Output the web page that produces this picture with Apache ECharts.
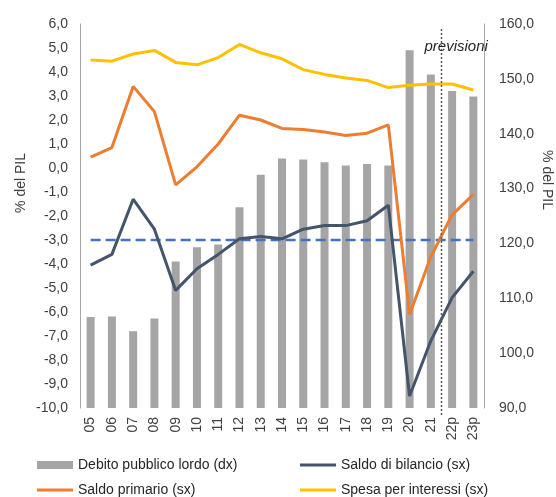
<!DOCTYPE html>
<html>
<head>
<meta charset="utf-8">
<script src="https://cdn.jsdelivr.net/npm/echarts@6/dist/echarts.min.js"></script>
<style>
  html, body { margin: 0; padding: 0; background: #fff; }
  #chart { width: 556px; height: 497px; }
</style>
</head>
<body>
<div id="chart"></div>
<script>
// anni (p = previsioni)
const anni = ['05', '06', '07', '08', '09', '10', '11', '12', '13', '14', '15', '16', '17', '18', '19', '20', '21', '22p', '23p'];

// % del PIL, asse destro
const debitoLordo = [106.6, 106.7, 104.0, 106.3, 116.7, 119.3, 119.8, 126.6, 132.5, 135.5, 135.3, 134.8, 134.2, 134.5, 134.2, 155.2, 150.8, 147.8, 146.8];

// % del PIL, asse sinistro
const saldoBilancio = [-4.05, -3.6, -1.3, -2.55, -5.1, -4.2, -3.6, -2.95, -2.85, -2.95, -2.55, -2.4, -2.4, -2.2, -1.55, -9.5, -7.2, -5.4, -4.3];
const saldoPrimario = [0.45, 0.85, 3.4, 2.35, -0.7, 0.05, 1.0, 2.2, 2.0, 1.65, 1.6, 1.5, 1.35, 1.45, 1.8, -6.1, -3.7, -1.95, -1.1];
const spesaInteressi = [4.5, 4.45, 4.75, 4.9, 4.4, 4.3, 4.6, 5.15, 4.8, 4.55, 4.1, 3.9, 3.75, 3.65, 3.35, 3.45, 3.5, 3.5, 3.25];
const sogliaDeficit = [-3, -3, -3, -3, -3, -3, -3, -3, -3, -3, -3, -3, -3, -3, -3, -3, -3, -3, -3];

const fontName = 'Liberation Sans';
const labelColor = '#404040';
const virgola = v => v.toFixed(1).replace('.', ',');

const chart = echarts.init(document.getElementById('chart'));

const legendItem = (name, left, top, h) => ({
  data: [{ name: name, icon: 'rect' }],
  left: left,
  top: top,
  padding: 0,
  itemWidth: 36,
  itemHeight: h,
  textStyle: { fontFamily: fontName, fontSize: 14, color: '#262626' }
});

chart.setOption({
  animation: false,
  textStyle: { fontFamily: fontName },
  grid: { left: 80, right: 72, top: 24, bottom: 89 },
  legend: [
    legendItem('Debito pubblico lordo (dx)', 37, 458, 8),
    legendItem('Saldo di bilancio (sx)', 300, 458, 3),
    legendItem('Saldo primario (sx)', 37, 483, 3),
    legendItem('Spesa per interessi (sx)', 300, 483, 3)
  ],
  xAxis: {
    type: 'category',
    data: anni,
    axisLine: { show: false },
    axisTick: { show: false },
    axisLabel: { rotate: 90, fontSize: 14, color: labelColor, margin: 9 }
  },
  yAxis: [
    {
      type: 'value',
      min: -10, max: 6, interval: 1,
      axisLine: { show: true, lineStyle: { color: '#a6a6a6' } },
      axisTick: { show: false },
      splitLine: { show: false },
      axisLabel: { fontSize: 14, color: labelColor, margin: 12, formatter: virgola }
    },
    {
      type: 'value',
      min: 90, max: 160, interval: 10,
      axisLine: { show: true, lineStyle: { color: '#a6a6a6' } },
      axisTick: { show: false },
      splitLine: { show: false },
      axisLabel: { fontSize: 14, color: labelColor, margin: 15, formatter: virgola }
    }
  ],
  series: [
    {
      name: 'Debito pubblico lordo (dx)',
      type: 'bar',
      yAxisIndex: 1,
      data: debitoLordo,
      barWidth: 8,
      itemStyle: { color: '#a5a5a5' }
    },
    {
      name: 'Soglia',
      type: 'line',
      data: sogliaDeficit,
      symbol: 'none',
      lineStyle: { color: '#4472c4', width: 2.5, type: [10, 5] },
      z: 3
    },
    {
      name: 'Saldo di bilancio (sx)',
      type: 'line',
      data: saldoBilancio,
      symbol: 'none',
      lineStyle: { color: '#44546a', width: 3 },
      itemStyle: { color: '#44546a' },
      z: 4
    },
    {
      name: 'Saldo primario (sx)',
      type: 'line',
      data: saldoPrimario,
      symbol: 'none',
      lineStyle: { color: '#ed7d31', width: 3 },
      itemStyle: { color: '#ed7d31' },
      z: 4
    },
    {
      name: 'Spesa per interessi (sx)',
      type: 'line',
      data: spesaInteressi,
      symbol: 'none',
      lineStyle: { color: '#ffc000', width: 3 },
      itemStyle: { color: '#ffc000' },
      z: 4
    }
  ]
});

// linea tra consuntivo e previsioni
const x21 = chart.convertToPixel({ xAxisIndex: 0 }, '21');
const x22 = chart.convertToPixel({ xAxisIndex: 0 }, '22p');
const xSep = (x21 + x22) / 2;
const yTop = chart.convertToPixel({ yAxisIndex: 0 }, 6);
const yBottom = chart.convertToPixel({ yAxisIndex: 0 }, -10);

chart.setOption({
  graphic: [
    {
      type: 'line',
      shape: { x1: xSep, y1: yTop + 5, x2: xSep, y2: yBottom + 9 },
      style: { stroke: '#595959', lineWidth: 1.5, lineDash: [2, 2] },
      z: 10
    },
    {
      type: 'text',
      x: xSep - 17, y: 47,
      style: { text: 'previsioni', font: 'italic 15px "Liberation Sans"', fill: '#262626', verticalAlign: 'middle' },
      z: 10
    },
    {
      type: 'text',
      x: 21, y: 183, rotation: Math.PI / 2,
      style: { text: '% del PIL', font: '14px "Liberation Sans"', fill: labelColor, align: 'center', verticalAlign: 'middle' }
    },
    {
      type: 'text',
      x: 547, y: 180, rotation: -Math.PI / 2,
      style: { text: '% del PIL', font: '14px "Liberation Sans"', fill: labelColor, align: 'center', verticalAlign: 'middle' }
    }
  ]
});
</script>
</body>
</html>
